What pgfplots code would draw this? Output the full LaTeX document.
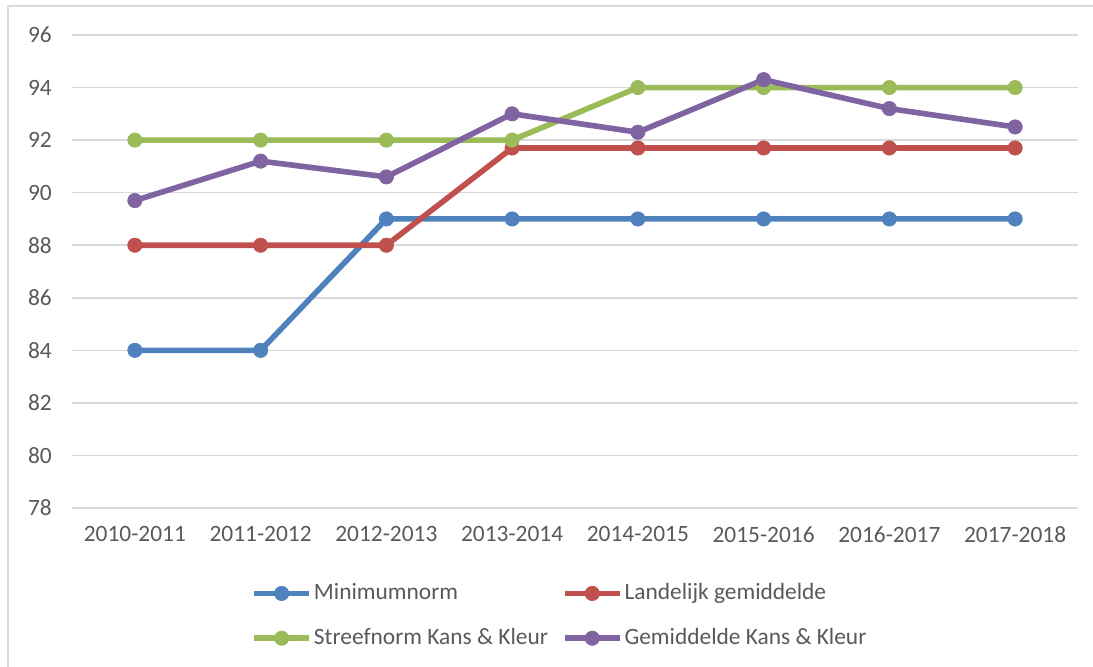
\documentclass[border=0pt]{standalone}
\usepackage{pgfplots}
\pgfplotsset{compat=1.18}
\usepackage{fontspec}
\setmainfont{Carlito}

\definecolor{cblue}{HTML}{4F81BD}
\definecolor{cred}{HTML}{C0504D}
\definecolor{cgreen}{HTML}{9BBB59}
\definecolor{cpurple}{HTML}{8064A2}
\definecolor{txtgray}{HTML}{595959}
\definecolor{gridgray}{HTML}{D9D9D9}

\begin{document}
\fontsize{11.7}{14}\selectfont
\begin{tikzpicture}
\useasboundingbox (0,0) rectangle (546.5pt,333pt);
% chart frame (only left and top edges fall inside the picture)
\draw[gridgray, line width=0.8pt] (4pt,-5pt) -- (4pt,330pt) -- (560pt,330pt);
\begin{axis}[
    at={(36pt,79pt)}, anchor=south west,
    scale only axis,
    width=503pt, height=236.5pt,
    xmin=-0.5, xmax=7.5,
    ymin=78, ymax=96,
    ytick={78,80,...,96},
    xtick={0,...,7},
    xticklabels={2010-2011,2011-2012,2012-2013,2013-2014,2014-2015,2015-2016,2016-2017,2017-2018},
    axis line style={draw=none},
    major tick length=0pt,
    ymajorgrids, grid style={gridgray, line width=0.8pt},
    tick label style={text=txtgray, font=\fontsize{11.7}{14}\selectfont},
    yticklabel style={xshift=-6pt},
    xticklabel style={yshift=-5pt},
    /pgf/number format/assume math mode=true,
    every axis plot/.append style={line width=2.8pt, mark=*, mark size=3.6pt},
    legend columns=2,
    legend style={at={(0.485,-0.142)}, anchor=north, draw=none, fill=none,
        font=\fontsize{11.7}{14}\selectfont, text=txtgray,
        nodes={inner xsep=1pt},
        /tikz/every even column/.append style={column sep=6pt},
        row sep=8.5pt},
    legend cell align=left,
    legend image code/.code={
        \draw[mark repeat=2, mark phase=2]
        plot coordinates {(0pt,0pt) (13.75pt,0pt) (27.5pt,0pt)};
    },
]
\addplot[cblue, mark options={fill=cblue, line width=0.3pt}] coordinates {
    (0,84) (1,84) (2,89) (3,89) (4,89) (5,89) (6,89) (7,89)};
\addlegendentry{Minimumnorm}
\addplot[cred, mark options={fill=cred, line width=0.3pt}] coordinates {
    (0,88) (1,88) (2,88) (3,91.7) (4,91.7) (5,91.7) (6,91.7) (7,91.7)};
\addlegendentry{Landelijk gemiddelde}
\addplot[cgreen, mark options={fill=cgreen, line width=0.3pt}] coordinates {
    (0,92) (1,92) (2,92) (3,92) (4,94) (5,94) (6,94) (7,94)};
\addlegendentry{Streefnorm Kans \& Kleur}
\addplot[cpurple, mark options={fill=cpurple, line width=0.3pt}] coordinates {
    (0,89.7) (1,91.2) (2,90.6) (3,93.0) (4,92.3) (5,94.3) (6,93.2) (7,92.5)};
\addlegendentry{Gemiddelde Kans \& Kleur}
\end{axis}
\end{tikzpicture}
\end{document}
